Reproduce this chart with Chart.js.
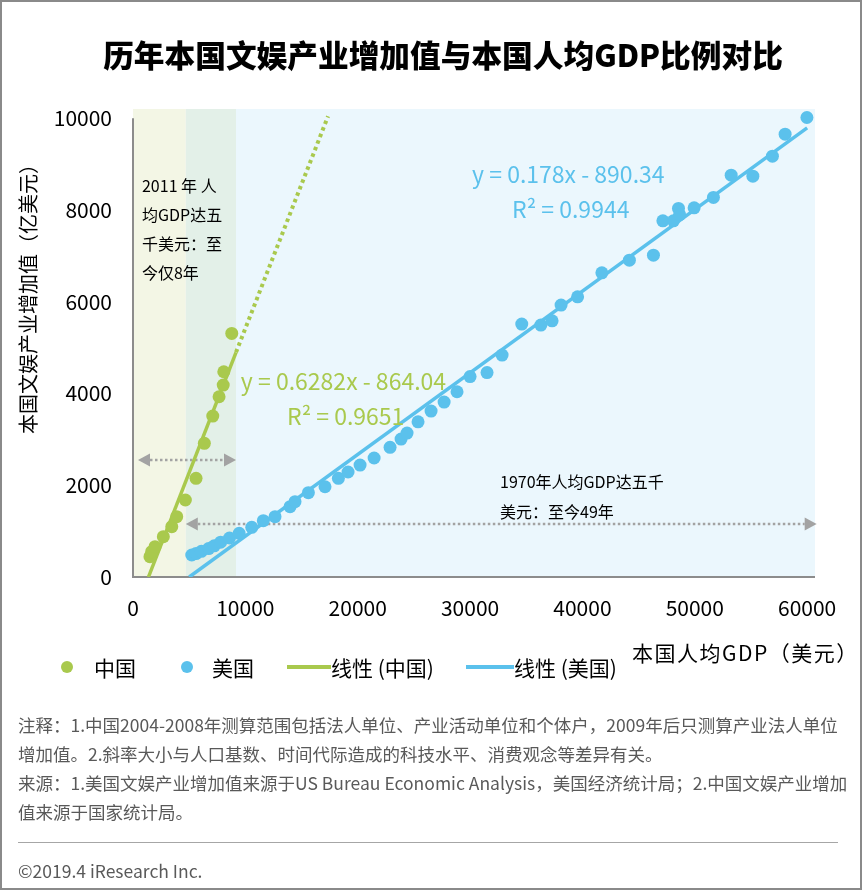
<!DOCTYPE html>
<html><head><meta charset="utf-8">
<script src="https://cdn.jsdelivr.net/npm/chart.js@4/dist/chart.umd.min.js"></script>
<style>
html,body{margin:0;padding:0;background:#fff;}
#wrap{position:relative;width:862px;height:890px;overflow:hidden;font-family:"Noto Sans CJK SC","Noto Sans",sans-serif;color:#000;}
#frame{position:absolute;left:0;top:0;width:862px;height:890px;box-sizing:border-box;border:2px solid #8a8a8a;pointer-events:none;z-index:5;}
canvas{position:absolute;left:0;top:0;}
.abs{position:absolute;white-space:nowrap;line-height:1;}
#title{left:0;width:886px;text-align:center;top:39px;font-size:30.7px;font-weight:900;}
#ytitle{left:28px;top:294px;font-size:20px;transform:translate(-50%,-50%) rotate(-90deg);}
#xtitle{left:632px;top:642px;font-size:21px;letter-spacing:1.5px;}
.leg{top:657px;font-size:21px;}
.dot{position:absolute;width:12px;height:12px;border-radius:50%;}
.ln{position:absolute;height:4px;}
#notes{left:18px;top:710px;font-size:17.5px;line-height:29px;color:#595959;}
#rule{position:absolute;left:18px;top:842px;width:820px;height:1px;background:#a6a6a6;}
#foot{left:18px;top:862px;font-size:17.5px;color:#595959;}
</style></head>
<body>
<div id="wrap">
<canvas id="c" width="862" height="890"></canvas>
<div id="title" class="abs">历年本国文娱产业增加值与本国人均GDP比例对比</div>
<div id="ytitle" class="abs">本国文娱产业增加值（亿美元）</div>
<div id="xtitle" class="abs">本国人均GDP（美元）</div>
<div class="dot" style="left:61px;top:661px;background:#A9C94D"></div>
<div class="abs leg" style="left:94px">中国</div>
<div class="dot" style="left:181px;top:661px;background:#5BC1EC"></div>
<div class="abs leg" style="left:212px">美国</div>
<div class="ln" style="left:287px;top:665px;width:44px;background:#A9C94D"></div>
<div class="abs leg" style="left:331px">线性 (中国)</div>
<div class="ln" style="left:466px;top:665px;width:48px;background:#5BC1EC"></div>
<div class="abs leg" style="left:514px">线性 (美国)</div>
<div id="notes" class="abs">注释：1.中国2004-2008年测算范围包括法人单位、产业活动单位和个体户，2009年后只测算产业法人单位<br>增加值。2.斜率大小与人口基数、时间代际造成的科技水平、消费观念等差异有关。<br>来源：1.美国文娱产业增加值来源于US Bureau Economic Analysis，美国经济统计局；2.中国文娱产业增加<br>值来源于国家统计局。</div>
<div id="rule"></div>
<div id="foot" class="abs">©2019.4 iResearch Inc.</div>
<div id="frame"></div>
</div>
<script>
// ---- data ----
const chinaGdp = [1510, 1660, 1960, 2700, 3450, 3890, 4660, 5610, 6350, 7100, 7660, 8030, 8080, 8790];
const chinaValue = [442, 551, 660, 878, 1096, 1314, 1678, 2150, 2913, 3508, 3928, 4183, 4473, 5309];
const usGdp = [5230, 5610, 6090, 6730, 7230, 7800, 8590, 9450, 10570, 11600, 12640, 13980, 14420, 15610, 17090, 18280, 19140, 20210, 21460, 22880, 23860, 24390, 25370, 26530, 27690, 28840, 30000, 31510, 32850, 34600, 36300, 37300, 38100, 39570, 41730, 44180, 46320, 47160, 48100, 48550, 48650, 49940, 51660, 53240, 55170, 56910, 58040, 59980];
const usValue = [479, 510, 560, 620, 680, 760, 850, 952, 1083, 1227, 1314, 1532, 1641, 1837, 1967, 2150, 2288, 2440, 2593, 2826, 3007, 3137, 3383, 3617, 3813, 4037, 4368, 4455, 4837, 5512, 5490, 5584, 5926, 6107, 6630, 6906, 7015, 7763, 7763, 8033, 7900, 8046, 8272, 8758, 8736, 9172, 9651, 10015];
const chinaFit = {slope: 0.6282, intercept: -864.04};
const usFit = {slope: 0.178, intercept: -890.34};
const chinaFitSolidX = [1375, 9170];
const chinaFitDottedX = [9170, 17360];
const usFitX = [5002, 60000];
const xTicks = [0, 10000, 20000, 30000, 40000, 50000, 60000];
const yTicks = [0, 2000, 4000, 6000, 8000, 10000];

// ---- styles / annotation layout ----
const GREEN = '#A9C94D', BLUE = '#5BC1EC';
const bands = [
  {from: 0, to: 4700, color: '#F3F6E5'},
  {from: 4700, to: 9170, color: '#E3F0E8'},
  {from: 9170, to: 60700, color: '#EBF7FD'}
];
const arrows = [
  {from: 445, to: 9170, y: 2550},
  {from: 4700, to: 60850, y: 1155}
];
const notes = [
  {x: 800, y: 8520, lines: ['2011 年 人', '均GDP达五', '千美元：至', '今仅8年'], color: '#000', size: 16, lh: 29},
  {x: 32670, y: 2070, lines: ['1970年人均GDP达五千', '美元：至今49年'], color: '#000', size: 16, lh: 30},
  {x: 9600, y: 4270, lines: ['y = 0.6282x - 864.04'], color: GREEN, size: 23, lh: 30},
  {x: 13710, y: 3508, lines: ['R² = 0.9651'], color: GREEN, size: 23, lh: 30},
  {x: 30180, y: 8780, lines: ['y = 0.178x - 890.34'], color: BLUE, size: 23, lh: 30},
  {x: 33740, y: 8017, lines: ['R² = 0.9944'], color: BLUE, size: 23, lh: 30}
];
const FONT = '"Noto Sans CJK SC","Noto Sans",sans-serif';

const fitPoints = (fit, xs) => xs.map(x => ({x, y: fit.slope * x + fit.intercept}));

const overlay = {
  id: 'overlay',
  beforeDatasetsDraw(chart) {
    const {ctx, chartArea: a, scales: {x, y}} = chart;
    ctx.save();
    bands.forEach(b => {
      const x1 = x.getPixelForValue(b.from), x2 = x.getPixelForValue(b.to);
      ctx.fillStyle = b.color;
      ctx.fillRect(x1, a.top, x2 - x1, a.bottom - a.top);
    });
    ctx.strokeStyle = '#8c8c8c'; ctx.lineWidth = 2;
    ctx.beginPath();
    ctx.moveTo(a.left, y.getPixelForValue(10000));
    ctx.lineTo(a.left, a.bottom);
    ctx.lineTo(a.right, a.bottom);
    ctx.stroke();
    arrows.forEach(ar => {
      const x1 = x.getPixelForValue(ar.from), x2 = x.getPixelForValue(ar.to), py = y.getPixelForValue(ar.y);
      const hl = 12, hw = 6.5;
      ctx.strokeStyle = '#a3a3a3'; ctx.fillStyle = '#a3a3a3'; ctx.lineWidth = 2.5;
      ctx.setLineDash([2.5, 2.5]);
      ctx.beginPath(); ctx.moveTo(x1 + hl, py); ctx.lineTo(x2 - hl, py); ctx.stroke();
      ctx.setLineDash([]);
      ctx.beginPath(); ctx.moveTo(x1, py); ctx.lineTo(x1 + hl, py - hw); ctx.lineTo(x1 + hl, py + hw); ctx.closePath(); ctx.fill();
      ctx.beginPath(); ctx.moveTo(x2, py); ctx.lineTo(x2 - hl, py - hw); ctx.lineTo(x2 - hl, py + hw); ctx.closePath(); ctx.fill();
    });
    ctx.restore();
  },
  afterDatasetsDraw(chart) {
    const {ctx, scales: {x, y}} = chart;
    ctx.save();
    ctx.textBaseline = 'middle'; ctx.textAlign = 'left';
    notes.forEach(n => {
      ctx.fillStyle = n.color;
      ctx.font = n.size + 'px ' + FONT;
      const px = x.getPixelForValue(n.x), py = y.getPixelForValue(n.y);
      n.lines.forEach((t, i) => ctx.fillText(t, px, py + i * n.lh));
    });
    ctx.restore();
  }
};

new Chart(document.getElementById('c'), {
  type: 'scatter',
  data: {
    datasets: [
      {label: '中国', data: chinaGdp.map((g, i) => ({x: g, y: chinaValue[i]})), backgroundColor: GREEN, borderColor: GREEN, borderWidth: 0, pointRadius: 6.5, order: 1},
      {label: '美国', data: usGdp.map((g, i) => ({x: g, y: usValue[i]})), backgroundColor: BLUE, borderColor: BLUE, borderWidth: 0, pointRadius: 6.5, order: 2},
      {label: '线性 (中国)', data: fitPoints(chinaFit, chinaFitSolidX), showLine: true, borderColor: GREEN, borderWidth: 3.5, pointRadius: 0, order: 3},
      {label: '线性 (中国) 延伸', data: fitPoints(chinaFit, chinaFitDottedX), showLine: true, borderColor: GREEN, borderWidth: 4, borderDash: [3.5, 3.5], pointRadius: 0, order: 4},
      {label: '线性 (美国)', data: fitPoints(usFit, usFitX), showLine: true, borderColor: BLUE, borderWidth: 3.5, pointRadius: 0, order: 5}
    ]
  },
  options: {
    responsive: false, animation: false, devicePixelRatio: 1,
    layout: {padding: {left: 0, top: 109, right: 47, bottom: 273}},
    plugins: {legend: {display: false}, tooltip: {enabled: false}},
    scales: {
      x: {
        type: 'linear', min: 0, max: 60700,
        afterBuildTicks: s => { s.ticks = xTicks.map(v => ({value: v})); },
        afterFit: s => { s.height = 40; },
        grid: {display: false, drawTicks: false}, border: {display: false},
        ticks: {padding: 18, color: '#000', font: {size: 21, family: FONT}, maxRotation: 0, callback: v => String(v)}
      },
      y: {
        type: 'linear', min: 0, max: 10200,
        afterBuildTicks: s => { s.ticks = yTicks.map(v => ({value: v})); },
        afterFit: s => { s.width = 133; },
        grid: {display: false, drawTicks: false}, border: {display: false},
        ticks: {padding: 21, color: '#000', font: {size: 21, family: FONT}, callback: v => String(v)}
      }
    }
  },
  plugins: [overlay]
});
</script>
</body></html>
